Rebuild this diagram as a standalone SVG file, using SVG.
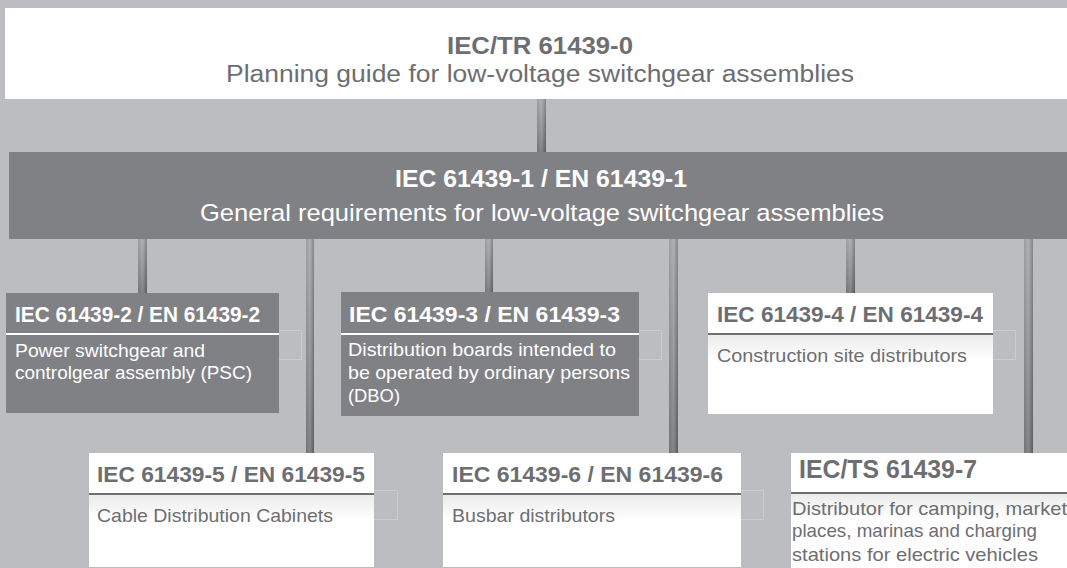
<svg xmlns="http://www.w3.org/2000/svg" width="1067" height="568" viewBox="0 0 1067 568">
  <defs>
    <linearGradient id="cg" x1="0" y1="0" x2="1" y2="0">
      <stop offset="0" stop-color="#8c8d90"/>
      <stop offset="0.5" stop-color="#a2a3a6"/>
      <stop offset="1" stop-color="#6e6f72"/>
    </linearGradient>
    <linearGradient id="cv" x1="0" y1="0" x2="0" y2="1">
      <stop offset="0" stop-color="#ffffff" stop-opacity="0.15"/>
      <stop offset="1" stop-color="#000000" stop-opacity="0.18"/>
    </linearGradient>
    <linearGradient id="band" x1="0" y1="0" x2="0" y2="1">
      <stop offset="0" stop-color="#ebebec"/>
      <stop offset="1" stop-color="#ffffff"/>
    </linearGradient>
  </defs>
  <style>
    .t { font-family: "Liberation Sans", Arial, Helvetica, sans-serif; }
    .b { font-weight: bold; }
    .dk { fill: #808184; }
    .wh { fill: #ffffff; }
    .tw { fill: #ffffff; }
    .tg { fill: #6d6e71; }
    .h { font-size: 21.5px; font-weight: bold; }
    .p { font-size: 18.5px; }
    .lw { stroke: #ffffff; stroke-width: 2; }
    .lg { stroke: #6d6e71; stroke-width: 2; }
    .br { fill: none; stroke: #cbccce; stroke-width: 1; }
    .cb { fill: url(#cg); }
    .co { fill: url(#cv); }
  </style>

  <rect x="0" y="0" width="1067" height="568" fill="#bcbdc0"/>

  <g id="connectors">
    <rect class="cb" x="537" y="99" width="9" height="53"/>
    <rect class="co" x="537" y="99" width="9" height="53"/>
    <rect class="cb" x="138" y="239" width="9" height="54"/>
    <rect class="co" x="138" y="239" width="9" height="54"/>
    <rect class="cb" x="306" y="239" width="8" height="214"/>
    <rect class="co" x="306" y="239" width="8" height="214"/>
    <rect class="cb" x="485" y="239" width="8" height="54"/>
    <rect class="co" x="485" y="239" width="8" height="54"/>
    <rect class="cb" x="669" y="239" width="9" height="214"/>
    <rect class="co" x="669" y="239" width="9" height="214"/>
    <rect class="cb" x="846" y="239" width="9" height="54"/>
    <rect class="co" x="846" y="239" width="9" height="54"/>
    <rect class="cb" x="1024" y="239" width="9" height="214"/>
    <rect class="co" x="1024" y="239" width="9" height="214"/>
  </g>

  <g id="node-tr0">
    <rect class="wh" x="5" y="8" width="1062" height="91"/>
    <text class="t b tg" x="540" y="54" font-size="24" text-anchor="middle" textLength="186" lengthAdjust="spacingAndGlyphs">IEC/TR 61439-0</text>
    <text class="t tg" x="540" y="82" font-size="23" text-anchor="middle" textLength="628" lengthAdjust="spacingAndGlyphs">Planning guide for low-voltage switchgear assemblies</text>
  </g>

  <g id="node-61439-1">
    <rect class="dk" x="9" y="152" width="1058" height="87"/>
    <text class="t b tw" x="541" y="187" font-size="24" text-anchor="middle" textLength="292" lengthAdjust="spacingAndGlyphs">IEC 61439-1 / EN 61439-1</text>
    <text class="t tw" x="542" y="221" font-size="24.5" text-anchor="middle" textLength="684" lengthAdjust="spacingAndGlyphs">General requirements for low-voltage switchgear assemblies</text>
  </g>

  <g id="node-61439-2">
    <path class="br" d="M279 330.5H301.5V359.5H279"/>
    <rect class="dk" x="6" y="293" width="273" height="120"/>
    <line class="lw" x1="6" y1="334" x2="279" y2="334"/>
    <text class="t h tw" x="15" y="322" textLength="245" lengthAdjust="spacingAndGlyphs">IEC 61439-2 / EN 61439-2</text>
    <text class="t p tw" x="15" y="357" textLength="190" lengthAdjust="spacingAndGlyphs">Power switchgear and</text>
    <text class="t p tw" x="15" y="379" textLength="237" lengthAdjust="spacingAndGlyphs">controlgear assembly (PSC)</text>
  </g>

  <g id="node-61439-3">
    <path class="br" d="M639 330.5H661.5V359.5H639"/>
    <rect class="dk" x="341" y="292" width="298" height="124"/>
    <line class="lw" x1="341" y1="334" x2="639" y2="334"/>
    <text class="t h tw" x="349" y="322" textLength="271" lengthAdjust="spacingAndGlyphs">IEC 61439-3 / EN 61439-3</text>
    <text class="t p tw" x="348" y="356" textLength="268" lengthAdjust="spacingAndGlyphs">Distribution boards intended to</text>
    <text class="t p tw" x="348" y="379" textLength="282" lengthAdjust="spacingAndGlyphs">be operated by ordinary persons</text>
    <text class="t p tw" x="348" y="402" textLength="52" lengthAdjust="spacingAndGlyphs">(DBO)</text>
  </g>

  <g id="node-61439-4">
    <path class="br" d="M993 330.5H1015.5V359.5H993"/>
    <rect class="wh" x="708" y="293" width="285" height="121"/>
    <rect fill="url(#band)" x="708" y="335" width="285" height="25"/>
    <line class="lg" x1="708" y1="334" x2="993" y2="334"/>
    <text class="t h tg" x="717" y="322" textLength="266" lengthAdjust="spacingAndGlyphs">IEC 61439-4 / EN 61439-4</text>
    <text class="t p tg" x="717" y="362" textLength="250" lengthAdjust="spacingAndGlyphs">Construction site distributors</text>
  </g>

  <g id="node-61439-5">
    <path class="br" d="M374 490.5H397.5V519.5H374"/>
    <rect class="wh" x="89" y="453" width="285" height="114"/>
    <rect fill="url(#band)" x="89" y="495" width="285" height="25"/>
    <line class="lg" x1="89" y1="494" x2="374" y2="494"/>
    <text class="t h tg" x="97" y="482" textLength="268" lengthAdjust="spacingAndGlyphs">IEC 61439-5 / EN 61439-5</text>
    <text class="t p tg" x="97" y="522" textLength="236" lengthAdjust="spacingAndGlyphs">Cable Distribution Cabinets</text>
  </g>

  <g id="node-61439-6">
    <path class="br" d="M741 490.5H763.5V519.5H741"/>
    <rect class="wh" x="443" y="453" width="298" height="114"/>
    <rect fill="url(#band)" x="443" y="495" width="298" height="25"/>
    <line class="lg" x1="443" y1="494" x2="741" y2="494"/>
    <text class="t h tg" x="452" y="482" textLength="271" lengthAdjust="spacingAndGlyphs">IEC 61439-6 / EN 61439-6</text>
    <text class="t p tg" x="452" y="522" textLength="163" lengthAdjust="spacingAndGlyphs">Busbar distributors</text>
  </g>

  <g id="node-61439-7">
    <rect class="wh" x="791" y="453" width="276" height="115"/>
    <rect fill="url(#band)" x="791" y="494" width="276" height="25"/>
    <line class="lg" x1="791" y1="493" x2="1067" y2="493"/>
    <text class="t b tg" x="799" y="478" font-size="25" textLength="178" lengthAdjust="spacingAndGlyphs">IEC/TS 61439-7</text>
    <text class="t tg" x="792" y="515" font-size="19" textLength="275" lengthAdjust="spacingAndGlyphs">Distributor for camping, market</text>
    <text class="t tg" x="792" y="537" font-size="19" textLength="245" lengthAdjust="spacingAndGlyphs">places, marinas and charging</text>
    <text class="t tg" x="792" y="561" font-size="19" textLength="246" lengthAdjust="spacingAndGlyphs">stations for electric vehicles</text>
  </g>
</svg>
